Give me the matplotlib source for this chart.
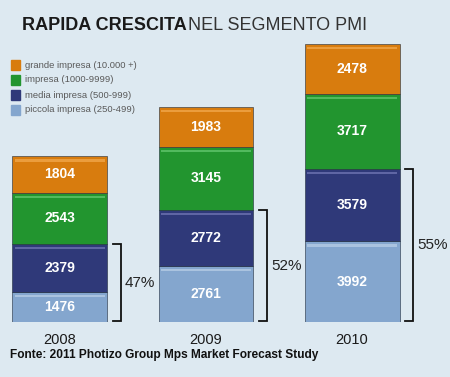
import matplotlib
matplotlib.use('Agg')
import matplotlib.pyplot as plt
from matplotlib.patches import Rectangle
import numpy as np

# dati
anni = ['2008', '2009', '2010']
piccola = [1476, 2761, 3992]
media = [2379, 2772, 3579]
impresa = [2543, 3145, 3717]
grande = [1804, 1983, 2478]
quote = ['47%', '52%', '55%']

serie = [piccola, media, impresa, grande]
etichette = ['grande impresa (10.000 +)', 'impresa (1000-9999)',
             'media impresa (500-999)', 'piccola impresa (250-499)']
colori = ['#84a6ce', '#2f3979', '#22952f', '#d87c0e']
luci = ['#b4cbe4', '#6c72b0', '#5fc46a', '#f0a64a']

bg = '#dde9f1'
plt.rcParams['font.family'] = ['Liberation Sans', 'DejaVu Sans']

fig = plt.figure(figsize=(4.5, 3.77), dpi=100, facecolor=bg)
ax = fig.add_axes([0, 0.146, 1, 0.777])
ax.set_facecolor(bg)
ax.set_xlim(-0.41, 2.67)
ax.set_ylim(0, 14500)
ax.axis('off')

x = np.arange(len(anni))
w = 0.65
fondo = np.zeros(len(anni))
for vals, c, l in zip(serie, colori, luci):
    vals = np.array(vals)
    ax.bar(x, vals, w, bottom=fondo, color=c, edgecolor='#1e2a3a',
           linewidth=0.4, zorder=2)
    # riflesso in alto
    ax.bar(x, 110, w * 0.94, bottom=fondo + vals - 260, color=l,
           alpha=0.8, linewidth=0, zorder=3)
    for xi, b, v in zip(x, fondo, vals):
        ax.text(xi, b + v / 2, str(v), ha='center', va='center', color='white',
                fontsize=10, fontweight='bold', zorder=4)
    fondo = fondo + vals

# parentesi per piccola + media
for xi, p, m, q in zip(x, piccola, media, quote):
    top = p + m
    xb = xi + 0.42
    ax.plot([xb - 0.06, xb, xb, xb - 0.06], [top, top, 60, 60],
            color='#111111', lw=1.3, solid_joinstyle='miter', zorder=2)
    ax.text(xb + 0.025, top / 2, q, ha='left', va='center', fontsize=11,
            color='#222222')

for xi, a in zip(x, anni):
    ax.text(xi, -900, a, ha='center', va='center', fontsize=10.5,
            color='#1a1a1a', clip_on=False)

# legenda
for i, (lab, c) in enumerate(zip(etichette, colori[::-1])):
    yc = 1 - (65 + 15 * i) / 377
    fig.patches.append(Rectangle((0.024, yc - 0.012), 0.02, 0.024,
                                 transform=fig.transFigure, color=c))
    fig.text(0.055, yc, lab, ha='left', va='center', fontsize=6.8,
             color='#5a5a5a')

# titolo
t1 = fig.text(0.048, 0.921, 'RAPIDA CRESCITA', ha='left', va='baseline',
              fontsize=13, fontweight='bold', color='#1a1a1a')
fig.canvas.draw()
bb = t1.get_window_extent().transformed(fig.transFigure.inverted())
fig.text(bb.x1 + 0.004, 0.921, 'NEL SEGMENTO PMI', ha='left', va='baseline',
         fontsize=13, color='#333333')

fig.text(0.022, 0.058, 'Fonte: 2011 Photizo Group Mps Market Forecast Study',
         ha='left', va='center', fontsize=8.6, fontweight='bold',
         color='#111111')

fig.savefig('out.png', dpi=100, facecolor=bg)
